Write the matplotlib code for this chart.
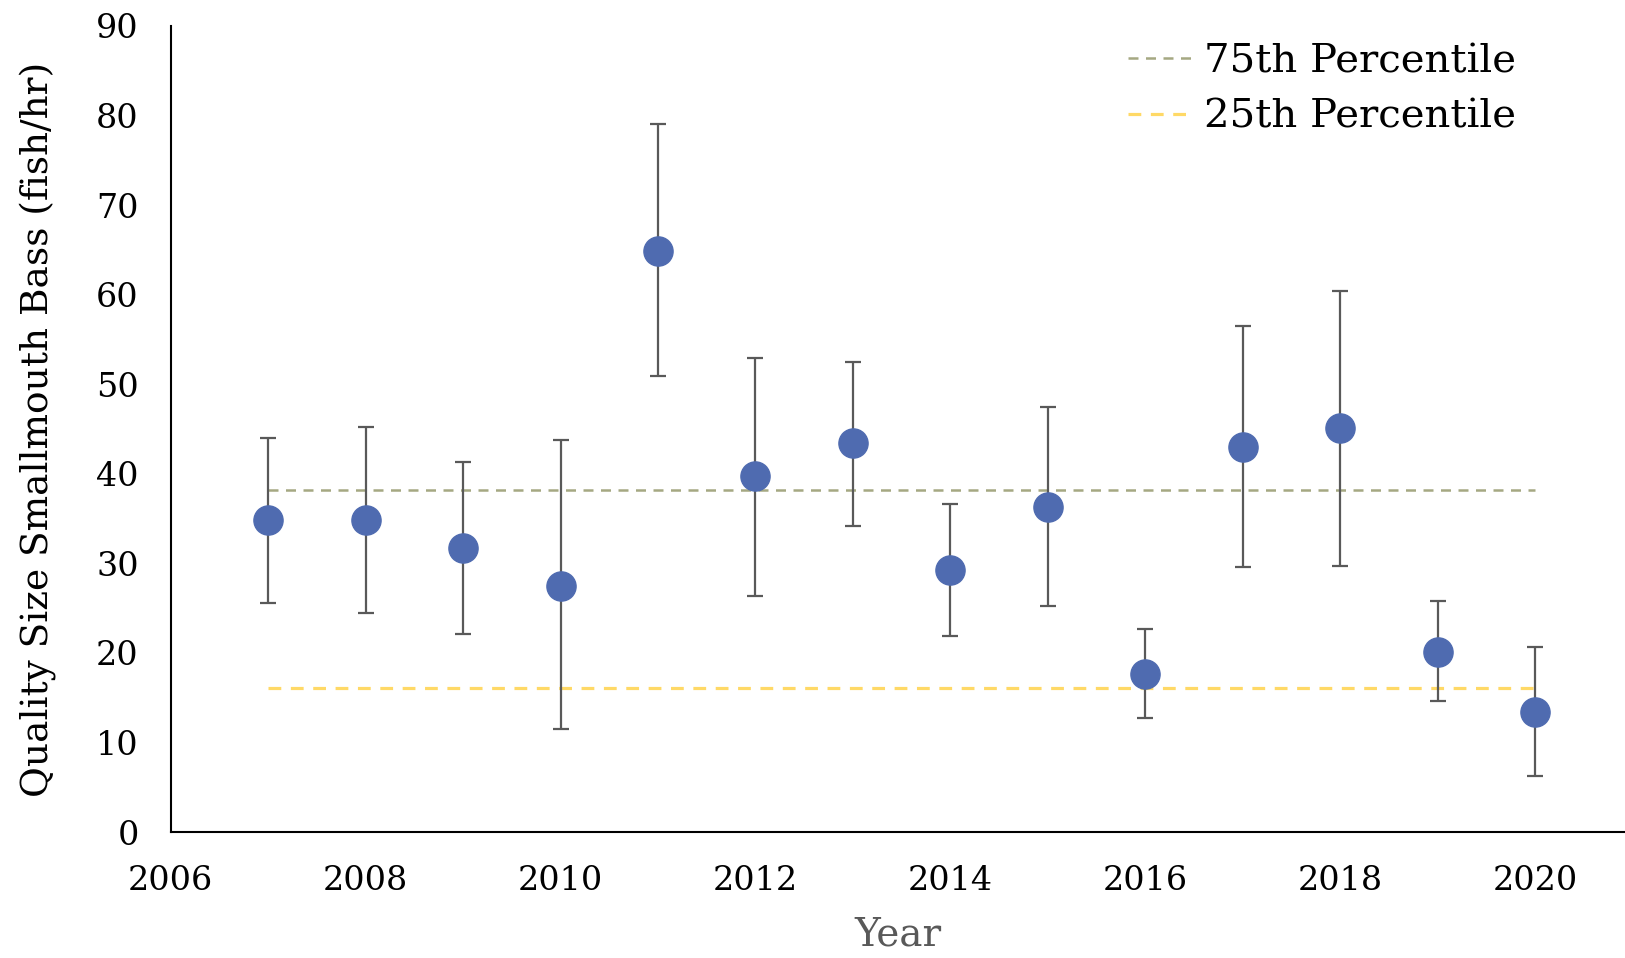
import matplotlib
matplotlib.use("Agg")
import matplotlib.pyplot as plt

# survey years and catch rates
years = [2007, 2008, 2009, 2010, 2011, 2012, 2013, 2014, 2015, 2016, 2017, 2018, 2019, 2020]
cpue = [34.8, 34.8, 31.7, 27.5, 64.9, 39.7, 43.4, 29.2, 36.3, 17.6, 43.0, 45.1, 20.1, 13.4]
upper = [44.0, 45.2, 41.3, 43.8, 79.1, 52.9, 52.5, 36.6, 47.4, 22.7, 56.5, 60.4, 25.8, 20.7]
lower = [25.6, 24.5, 22.1, 11.5, 50.9, 26.3, 34.2, 21.9, 25.2, 12.7, 29.6, 29.7, 14.6, 6.2]

p75 = 38.2
p25 = 16.1

err_lo = [c - l for c, l in zip(cpue, lower)]
err_hi = [u - c for c, u in zip(cpue, upper)]

plt.rcParams['font.family'] = ['DejaVu Serif']

fig = plt.figure(figsize=(16.25, 9.58), dpi=100)
ax = fig.add_axes([0.105, 0.1315, 0.895, 0.8415])

ax.errorbar(years, cpue, yerr=[err_lo, err_hi], fmt='o', color='#4F6BB0',
            markersize=21, ecolor='#595959', elinewidth=1.6, capsize=6,
            capthick=1.6, zorder=3)

ax.plot([years[0], years[-1]], [p75, p75], linestyle=(0, (4, 3)), color='#A5A882',
        linewidth=1.8, label='75th Percentile')
ax.plot([years[0], years[-1]], [p25, p25], linestyle=(0, (4, 3)), color='#FFD966',
        linewidth=2.3, label='25th Percentile')

ax.set_xlim(2006, 2020.92)
ax.set_ylim(0, 90)
ax.set_xticks(range(2006, 2021, 2))
ax.set_yticks(range(0, 91, 10))
ax.tick_params(length=0, labelsize=24)
ax.tick_params(axis='x', pad=24)
ax.tick_params(axis='y', pad=23)
for s in ['top', 'right']:
    ax.spines[s].set_visible(False)
for s in ['left', 'bottom']:
    ax.spines[s].set_linewidth(1.5)

ax.set_ylabel('Quality Size Smallmouth Bass (fish/hr)', fontsize=27, labelpad=28)
ax.set_xlabel('Year', fontsize=28, color='#595959', labelpad=14)

ax.legend(loc='upper right', bbox_to_anchor=(0.95, 1.023), frameon=False,
          fontsize=29, handlelength=1.6, handletextpad=0.3, labelspacing=0.45)

fig.savefig('out.png', dpi=100)
